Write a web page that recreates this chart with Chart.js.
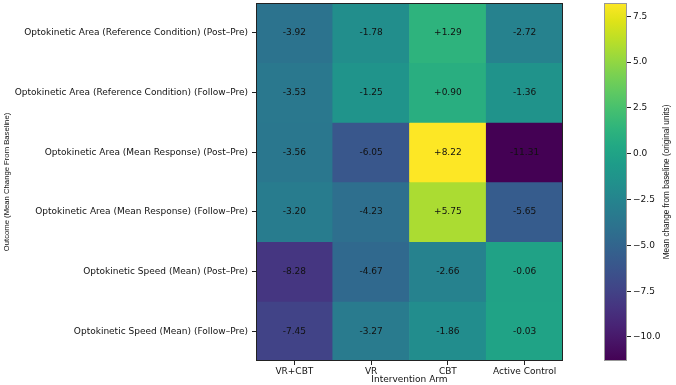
<!DOCTYPE html>
<html lang="en">
<head>
    <meta charset="UTF-8">
    <script src="https://cdn.jsdelivr.net/npm/chart.js@4.4.1/dist/chart.umd.min.js"></script>
    <title>Heatmap</title>
    <style>
        body { margin: 0; background: #fff; }
    </style>
</head>
<body>
    <canvas id="heat" width="676" height="385"></canvas>

    <script>
    // data
    const arms = ['VR+CBT', 'VR', 'CBT', 'Active Control'];
    const outcomes = [
        'Optokinetic Area (Reference Condition) (Post–Pre)',
        'Optokinetic Area (Reference Condition) (Follow–Pre)',
        'Optokinetic Area (Mean Response) (Post–Pre)',
        'Optokinetic Area (Mean Response) (Follow–Pre)',
        'Optokinetic Speed (Mean) (Post–Pre)',
        'Optokinetic Speed (Mean) (Follow–Pre)'
    ];
    const vrCbt = [-3.92, -3.53, -3.56, -3.20, -8.28, -7.45];
    const vr = [-1.78, -1.25, -6.05, -4.23, -4.67, -3.27];
    const cbt = [1.29, 0.90, 8.22, 5.75, -2.66, -1.86];
    const activeControl = [-2.72, -1.36, -11.31, -5.65, -0.06, -0.03];
    const colorbarTicks = [-10, -7.5, -5, -2.5, 0, 2.5, 5, 7.5];

    const columns = [vrCbt, vr, cbt, activeControl];
    const allValues = columns.flat();
    const vmin = Math.min(...allValues);
    const vmax = Math.max(...allValues);

    // viridis colormap, stops every 0.05
    const viridis = ['#440154', '#471365', '#482475', '#463480', '#414487', '#3b528b', '#355f8d',
        '#2f6c8e', '#2a788e', '#25848e', '#21918c', '#1e9c89', '#22a884', '#2fb47c', '#44bf70',
        '#5ec962', '#7ad151', '#9bd93c', '#bddf26', '#dfe318', '#fde725'];

    function hexToRgb(h) {
        return [parseInt(h.slice(1, 3), 16), parseInt(h.slice(3, 5), 16), parseInt(h.slice(5, 7), 16)];
    }

    function colorFor(v) {
        let t = (v - vmin) / (vmax - vmin);
        t = Math.max(0, Math.min(1, t));
        const pos = t * (viridis.length - 1);
        const i = Math.min(Math.floor(pos), viridis.length - 2);
        const f = pos - i;
        const a = hexToRgb(viridis[i]), b = hexToRgb(viridis[i + 1]);
        const c = a.map((x, k) => Math.round(x + (b[k] - x) * f));
        return `rgb(${c[0]}, ${c[1]}, ${c[2]})`;
    }

    function fmt(v) {
        return (v > 0 ? '+' : '') + v.toFixed(2);
    }

    // one floating-bar dataset per outcome row
    const datasets = outcomes.map((name, r) => ({
        label: name,
        data: arms.map(() => [r, r + 1]),
        backgroundColor: arms.map((arm, c) => colorFor(columns[c][r])),
        borderWidth: 0,
        grouped: false,
        barPercentage: 1,
        categoryPercentage: 1
    }));

    const tickFont = { family: 'DejaVu Sans', size: 9 };

    // no extra room for half tick labels at the ends
    function noPad(s) {
        s.paddingTop = 0;
        s.paddingBottom = 0;
        s.paddingLeft = 0;
        s.paddingRight = 0;
    }

    // draws cell values, axes frame and colorbar
    const heatPlugin = {
        id: 'heatPlugin',
        afterDraw(chart) {
            const ctx = chart.ctx;
            const area = chart.chartArea;
            ctx.save();

            ctx.font = '9px "DejaVu Sans"';
            ctx.fillStyle = '#111';
            ctx.textAlign = 'center';
            ctx.textBaseline = 'middle';
            chart.data.datasets.forEach((ds, r) => {
                chart.getDatasetMeta(r).data.forEach((bar, c) => {
                    ctx.fillText(fmt(columns[c][r]), bar.x, (bar.y + bar.base) / 2);
                });
            });

            ctx.strokeStyle = '#222';
            ctx.lineWidth = 1;
            ctx.strokeRect(area.left + 0.5, area.top + 0.5, area.right - area.left - 1, area.bottom - area.top - 1);

            // colorbar
            const cb = chart.scales.cb;
            const top = cb.getPixelForValue(vmax);
            const bottom = cb.getPixelForValue(vmin);
            const x1 = cb.left;
            const x0 = x1 - 23;
            const grad = ctx.createLinearGradient(0, bottom, 0, top);
            viridis.forEach((col, i) => grad.addColorStop(i / (viridis.length - 1), col));
            ctx.fillStyle = grad;
            ctx.fillRect(x0, top, x1 - x0, bottom - top);
            ctx.strokeStyle = '#999';
            ctx.strokeRect(x0 + 0.5, top + 0.5, x1 - x0 - 1, bottom - top - 1);

            ctx.translate(cb.right - 9, (top + bottom) / 2);
            ctx.rotate(-Math.PI / 2);
            ctx.font = '8.2px "Liberation Sans"';
            ctx.fillStyle = '#111';
            ctx.fillText('Mean change from baseline (original units)', 0, 0);
            ctx.restore();
        }
    };

    new Chart(document.getElementById('heat'), {
        type: 'bar',
        data: { labels: arms, datasets: datasets },
        plugins: [heatPlugin],
        options: {
            responsive: false,
            animation: false,
            devicePixelRatio: 1,
            layout: { padding: { top: 3, left: 0, right: 0, bottom: 0 } },
            plugins: {
                legend: { display: false },
                tooltip: { enabled: false }
            },
            scales: {
                x: {
                    type: 'category',
                    grid: { display: true, offset: false, drawOnChartArea: false, tickLength: 4, color: '#222' },
                    border: { display: false },
                    ticks: { font: tickFont, color: '#111', padding: 1, maxRotation: 0 },
                    title: {
                        display: true,
                        text: 'Intervention Arm',
                        font: tickFont,
                        color: '#111',
                        padding: { top: 0, bottom: 0 }
                    },
                    afterFit: s => { s.height = 24; noPad(s); }
                },
                y: {
                    type: 'linear',
                    position: 'left',
                    min: 0,
                    max: outcomes.length,
                    reverse: true,
                    afterBuildTicks: s => { s.ticks = outcomes.map((o, i) => ({ value: i + 0.5 })); },
                    grid: { display: true, drawOnChartArea: false, tickLength: 4, color: '#222' },
                    border: { display: false },
                    ticks: {
                        font: tickFont,
                        color: '#111',
                        padding: 4,
                        autoSkip: false,
                        callback: v => outcomes[Math.floor(v)]
                    },
                    title: {
                        display: true,
                        text: 'Outcome (Mean Change From Baseline)',
                        font: { family: 'Liberation Sans', size: 7.7 },
                        color: '#111',
                        padding: { top: 2, bottom: 0 }
                    },
                    afterFit: s => { s.width = 256; noPad(s); }
                },
                spacer: {
                    type: 'linear',
                    position: 'right',
                    weight: 0,
                    grid: { display: false },
                    border: { display: false },
                    ticks: { display: false },
                    afterFit: s => { s.width = 64; noPad(s); }
                },
                cb: {
                    type: 'linear',
                    position: 'right',
                    weight: 1,
                    min: vmin,
                    max: vmax,
                    afterBuildTicks: s => { s.ticks = colorbarTicks.map(v => ({ value: v })); },
                    grid: { display: true, drawOnChartArea: false, tickLength: 4, color: '#222' },
                    border: { display: false },
                    ticks: {
                        font: tickFont,
                        color: '#111',
                        padding: 2,
                        callback: v => v.toFixed(1).replace('-', '\u2212')
                    },
                    afterFit: s => { s.width = 49; noPad(s); }
                }
            }
        }
    });
    </script>
</body>
</html>
